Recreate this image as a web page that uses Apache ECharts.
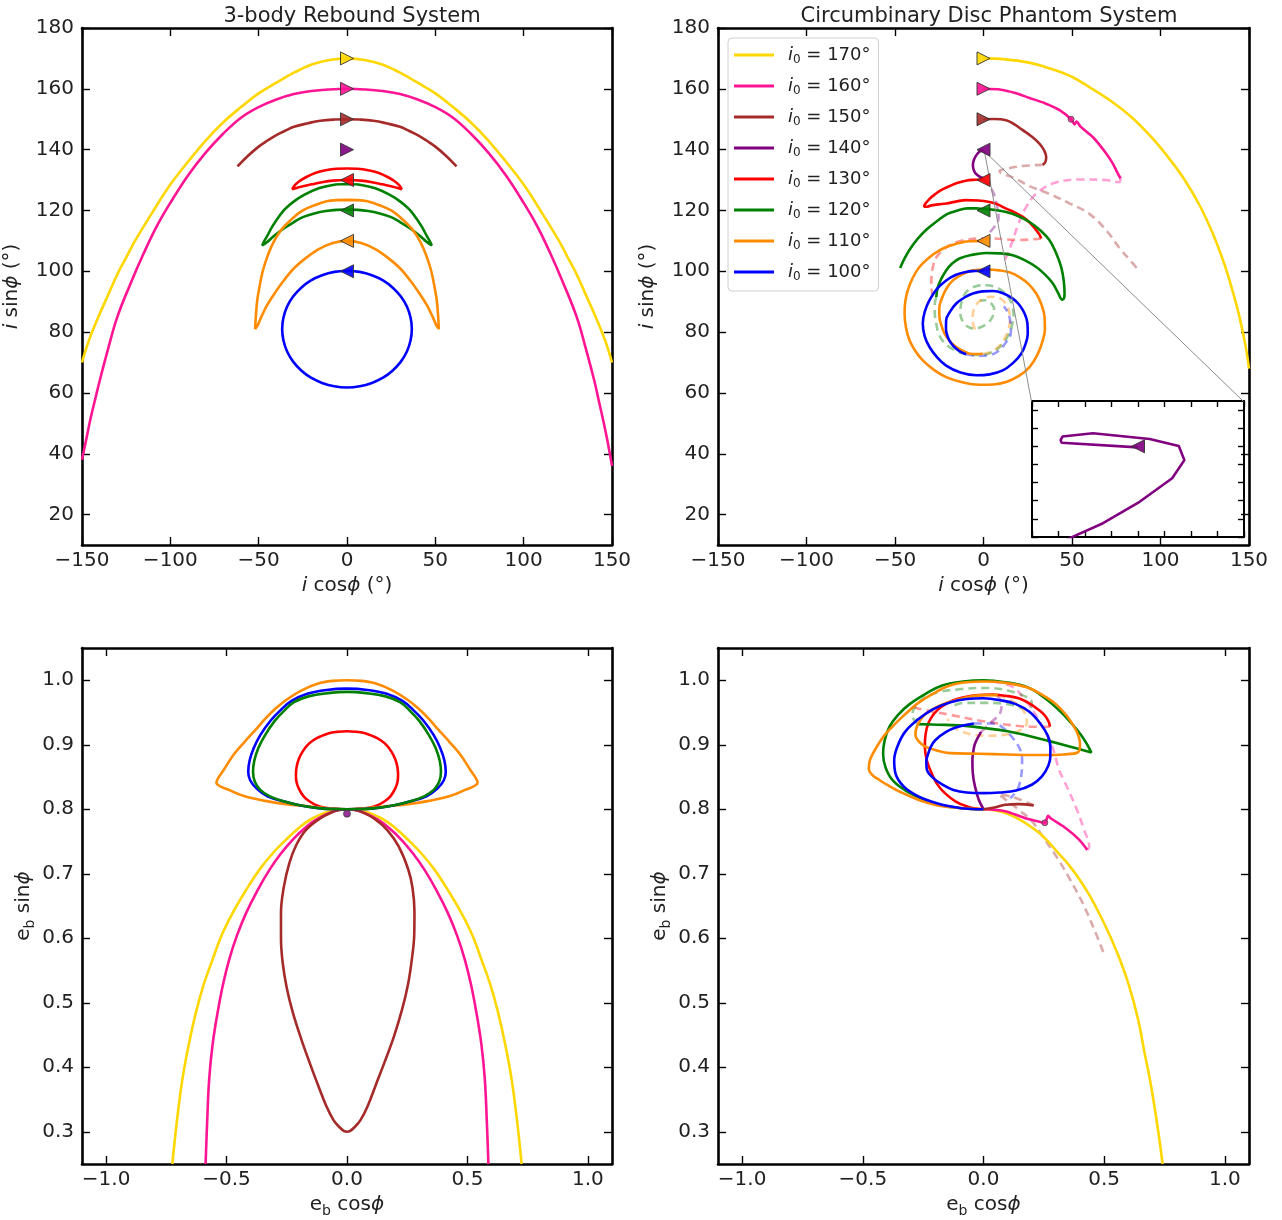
<!DOCTYPE html>
<html>
<head>
<meta charset="utf-8">
<title>Inclination and eccentricity phase portraits</title>
<script src="https://cdn.jsdelivr.net/npm/echarts@6.0.0/dist/echarts.min.js"></script>
<style>
  html, body { margin: 0; padding: 0; background: #fff; }
  #chart { width: 1282px; height: 1220px; }
</style>
</head>
<body>
<div id="chart"></div>
<script>
const FONT = '"DejaVu Sans", sans-serif';

// legend entries, initial inclinations
const i0Labels = ["170", "160", "150", "140", "130", "120", "110", "100"];
const i0Colors = ["#FFD700", "#FF1493", "#A52A2A", "#800080", "#FF0000", "#008000", "#FF8C00", "#0000FF"];
const markerIncl = [170, 160, 150, 140, 130, 120, 110, 100];
const reboundMarkerRot = [-90, -90, -90, -90, 90, 90, 90, 90];
const phantomMarkerRot = [-90, -90, -90, 90, 90, 90, 90, 90];

// tick values
const inclTicksX = [-150, -100, -50, 0, 50, 100, 150];
const inclTicksY = [20, 40, 60, 80, 100, 120, 140, 160, 180];
const eccTicksX = [-1.0, -0.5, 0, 0.5, 1.0];
const eccTicksY = [0.3, 0.4, 0.5, 0.6, 0.7, 0.8, 0.9, 1.0];
const insetTicksX = [-4, -3, -2, -1, 0, 1, 2, 3, 4];
const insetTicksY = [137.5, 138, 138.5, 139, 139.5, 140, 140.5, 141];

// ---- 3-body Rebound, inclination plane (i cos phi, i sin phi)
const tlGold170 = [[-150,70],[-148,74],[-145,79],[-140,86],[-135,92.5],[-130,99],[-125,104.5],[-120,110],[-110,119.5],[-100,128.5],[-90,136],[-80,143],[-70,149],[-60,154],[-50,158.5],[-40,162],[-30,165.3],[-20,168],[-10,169.5],[0,170],[10,169.5],[20,168],[30,165.3],[40,162],[50,158.5],[60,154],[70,149],[80,143],[90,136],[100,128.5],[110,119.5],[120,110],[125,104.5],[130,99],[135,92.5],[140,86],[145,79],[148,74],[150,70]];
const tlPink160 = [[-150,38],[-147.5,45],[-145,52],[-142.5,58],[-140,64],[-135,75],[-130,85],[-122.5,96],[-115,106],[-107.5,115],[-100,122.5],[-90,131.5],[-80,139],[-70,145.3],[-60,150.5],[-50,154],[-40,156.5],[-30,158.3],[-20,159.3],[-10,159.8],[0,160],[10,159.8],[20,159.3],[30,158.3],[40,156.5],[50,154],[60,150.5],[70,145.3],[80,139],[90,131.5],[100,122.5],[107.5,115],[115,106],[122.5,96],[130,85],[135,75],[140,64],[142.5,57.5],[145,51],[147.5,44],[150,36]];
const tlBrown150 = [[-62,134.5],[-56,138],[-50,141],[-45,143],[-40,144.8],[-35,146.2],[-30,147.5],[-22,148.7],[-15,149.5],[-7,149.9],[0,150],[7,149.9],[15,149.5],[22,148.7],[30,147.5],[35,146.2],[40,144.8],[45,143],[50,141],[56,138],[62,134.5]];
const tlRed130 = [[0,133.8],[6,133.7],[12,133.2],[18,132.3],[23,131],[27,129.6],[29.5,128.3],[31,127],[28,127.5],[25,128],[20,128.6],[15,129.2],[8,129.8],[0,130],[-8,129.8],[-15,129.2],[-20,128.6],[-25,128],[-28,127.5],[-31,127],[-29.5,128.3],[-27,129.6],[-23,131],[-18,132.3],[-12,133.2],[-6,133.7],[0,133.8]];
const tlGreen120 = [[0,128.7],[8,128.4],[16,127.3],[24,125.2],[30,123],[35,120.5],[39,117.6],[42.5,114.5],[45,111.8],[47,109.8],[48,108.5],[45,109.7],[41,111.8],[36,114],[30,116.2],[25,117.8],[18,119.1],[12,119.8],[6,120.2],[0,120.3],[-6,120.2],[-12,119.8],[-18,119.1],[-25,117.8],[-30,116.2],[-36,114],[-41,111.8],[-45,109.7],[-48,108.5],[-47,109.8],[-45,111.8],[-42.5,114.5],[-39,117.6],[-35,120.5],[-30,123],[-24,125.2],[-16,127.3],[-8,128.4],[0,128.7]];
const tlOrange110 = [[0,123.5],[-6,123.4],[-11.5,123],[-18,121.8],[-25,120],[-31,117.3],[-37,113.8],[-41.5,109.7],[-45,105],[-47.7,100],[-49.5,95],[-50.8,90.5],[-51.5,86],[-52,81],[-50.5,82.3],[-48.5,85],[-45.3,88.8],[-41.5,92.3],[-36,96.8],[-30,101],[-23,104.5],[-16,107.3],[-8,109.3],[0,110],[8,109.3],[16,107.3],[23,104.5],[30,101],[36,96.8],[41.5,92.3],[45.3,88.8],[48.5,85],[50.5,82.3],[52,81],[51.5,86],[50.8,90.5],[49.5,95],[47.7,100],[45,105],[41.5,109.7],[37,113.8],[31,117.3],[25,120],[18,121.8],[11.5,123],[6,123.4],[0,123.5]];
const tlBlue100 = [[0,100.2],[7.2,99.8],[14.1,98.7],[20.4,97],[25.9,94.6],[30.5,91.7],[33.9,88.4],[36,84.7],[36.7,81],[36,77.3],[33.9,73.6],[30.5,70.3],[25.9,67.4],[20.4,65],[14.1,63.3],[7.2,62.2],[0,61.8],[-7.2,62.2],[-14.1,63.3],[-20.4,65],[-25.9,67.4],[-30.5,70.3],[-33.9,73.6],[-36,77.3],[-36.7,81],[-36,84.7],[-33.9,88.4],[-30.5,91.7],[-25.9,94.6],[-20.4,97],[-14.1,98.7],[-7.2,99.8],[0,100.2]];

// ---- Phantom disc, inclination plane
const trGold170 = [[0,170],[12,169.7],[25,168.7],[37,166.8],[49,164.2],[60,160.5],[72,156],[84,150.5],[95,144],[105,137],[113.5,130.2],[122,121.8],[129.5,112.5],[136,102.5],[141,93],[144,86.5],[146.5,80],[148.5,74],[150,68]];
const trPink160 = [[0,160],[10,159.7],[18,158.6],[26,157],[35,155.2],[43,153],[49.5,150],[51.5,148.3],[52.5,149.2],[55,147.5],[62,144],[69,139],[73,135.5],[76,132],[77.5,130.5]];
const trPink160d = [[77.5,130.5],[76.5,129.3],[69,130],[55,130.2],[40,129],[30,125.6],[24,121],[20,116],[16.5,110.2],[13.5,105.5],[11,102.5]];
const trBrown150 = [[0,150],[6,150.1],[12.8,149.7],[17.5,148.3],[22.2,146.4],[27,144.4],[31.6,142],[34.2,139.8],[35.4,137.6],[35,136],[33.5,135]];
const trBrown150d = [[33.5,135],[22,134.6],[11,133.5],[9,133],[18,130.5],[26,128],[37,125.5],[48,122.5],[60,118.8],[70,113],[77,107.5],[83,103.5],[87.5,100.5]];
const trPurple140 = [[0,140],[-2.3,139.3],[-4,138.2],[-5.4,136.7],[-6,135],[-5.6,133.4],[-4.5,132.2],[-2.4,131.2],[0,130.5]];
const trPurple140d = [[0,130.5],[5,126.5],[7.5,122],[8.5,117.5],[6,114.5],[2,112]];
const trRed130 = [[0,130.2],[-5,130.1],[-10,129.8],[-15,129],[-20,127.8],[-24,126.7],[-27,125.5],[-30,124.1],[-32,122.8],[-33.3,121.8],[-33.5,121.2],[-32,121.2],[-30,121.6],[-25.5,122],[-21,122.3],[-15,123],[-10,123.4],[-3,123.3],[3.4,122.8],[8,122],[12.8,120.6],[17.5,119.4],[22.2,117.9],[26.5,115.8],[29.8,113.5],[31.5,112.2],[32.6,110.8]];
const trRed130d = [[32.6,110.8],[20,110.3],[3.4,110.8],[-15,109.6],[-25,105.8],[-28.6,101.4],[-29.5,95],[-28,91]];
const trGreen120 = [[-47.1,101.1],[-44.5,104.3],[-41.4,107.4],[-37,110.8],[-32,113.8],[-26,116.6],[-20.6,118.8],[-15,119.9],[-9,120.7],[-4,120.7],[0,120.5],[6,120.2],[12.8,119.5],[19.5,118.2],[26,116.2],[32,113.5],[37.3,110.2],[41,106],[43.9,101.4],[45.3,97],[45.8,92.7],[45.4,91],[44.5,90.7],[42.2,92.8],[39.2,96],[34.8,98.9],[29.8,101.4],[23.5,103.6],[16.6,105.3],[9,105.9],[1.5,106],[-6.5,105.4],[-13.6,104.2],[-18,102.4],[-21.1,100.3],[-23.8,97.6],[-25.8,94.8],[-26.7,91.5]];
const trGreen120d = [[-26.7,91.5],[-27.6,88.8],[-27.5,86],[-26.6,82.4],[-25,79],[-22.3,76.6],[-19,75],[-14.5,73.6],[-10,72.8],[-5,72.5],[0,72.5],[4,73.2],[8,74.5],[11.3,76.5],[14,79],[16.1,82.2],[17,85.5],[16.2,88.7],[14,91.5],[10.5,93.6],[6,95],[1.5,95.4],[-3,95.3],[-6.8,94.4],[-10,93],[-12,90.6],[-13,88],[-13.1,86.2],[-12.5,84.5],[-10.5,82.6],[-8,81.5],[-5,81.2],[-2,81.5],[1.5,82.6],[4,84],[5.6,85.8],[6,87.5],[5,89],[3,90],[0.5,90.5],[-2,90.3]];
const trOrange110 = [[0,110],[-6,109.9],[-11.7,109.6],[-18.5,108.5],[-24.9,106.9],[-31,104.4],[-36.2,101.4],[-40,97.8],[-42.8,93.7],[-44.2,90],[-44.6,86.1],[-43.8,81.5],[-41.8,77.3],[-38.5,73.8],[-34.3,70.7],[-28,67.6],[-21.1,65.2],[-12,63.5],[-2.3,62.7],[5.5,62.8],[12.8,63.6],[20,65.6],[26,68.5],[30.5,72.6],[33.5,77.3],[34.7,81],[34.5,85],[32.8,89],[29.8,92.7],[25.5,95.8],[20.3,98.1],[15,99.6],[9,100.3],[1.5,100.6],[-6,100.3],[-12,99],[-17.3,97],[-21.3,94],[-23.9,90.5],[-25,87.8],[-24.9,85],[-23.8,82.2],[-22,79.5],[-19,77],[-15.4,75.1],[-11.5,73.8],[-7.9,72.9],[-4,72.8],[-0.4,72.9]];
const trOrange110d = [[-0.4,72.9],[3,73.2],[6,74],[9.5,75.8],[12,78],[14,80.8],[15,84],[14.5,86.8],[13,89],[10.2,90.8],[7,91.5],[3.5,91.6],[0,91],[-3,89.8],[-5,88],[-6.1,85.5],[-6,83],[-4.8,81],[-3,79.5]];
const trBlue100 = [[0,100.2],[-5,100.1],[-9.8,99.8],[-15.8,98.8],[-21.1,97],[-26.3,94.2],[-30.5,90.5],[-33.2,86.7],[-34.3,82.8],[-33.3,78.8],[-30.5,75.1],[-26.3,71.8],[-21.1,69],[-13,66.7],[-4.1,65.8],[3.5,66.1],[10.9,67.4],[16.6,69.8],[21.3,72.9],[23.8,76.2],[25,79.5],[24.8,83],[23.2,86.1],[20.3,88.9],[16.6,91],[11,92.8],[5.3,93.5],[-0.5,93.4],[-6,92.7],[-11,91.3],[-15.4,89.4],[-18.8,86.8],[-21.1,83.9],[-21.2,81],[-20.2,78.4],[-18.1,76.2],[-15.4,74.5],[-12.7,73.4],[-9.8,72.7]];
const trBlue100d = [[-9.8,72.7],[-3,72.2],[4,72.5],[9,74],[12.5,76.5],[15.5,80],[15,84],[13.7,86.5],[11.5,88.5]];
const trPinkDot = [[49.5,150]];
const insetPurple = [[0,139.97],[-2.88,140.1],[-2.92,140.17],[-2.85,140.27],[-1.7,140.36],[0.44,140.2],[1.54,140.01],[1.75,139.62],[1.29,139.12],[0.06,138.47],[-1.32,137.88],[-2.45,137.51],[-3,137.3]];
const insetLinkLeft = [[0.5,139.5],[27.1,57.2]];
const insetLinkRight = [[0.5,139.5],[146.9,57.2]];

// ---- 3-body Rebound, eccentricity plane (e_b cos phi, e_b sin phi)
const blGold170 = [[-0.725,0.25],[-0.705,0.32],[-0.683,0.382],[-0.657,0.435],[-0.627,0.485],[-0.595,0.528],[-0.558,0.567],[-0.52,0.605],[-0.475,0.639],[-0.42,0.674],[-0.364,0.706],[-0.31,0.731],[-0.253,0.753],[-0.2,0.771],[-0.142,0.786],[-0.06,0.798],[0,0.8],[0.06,0.798],[0.142,0.786],[0.2,0.771],[0.253,0.753],[0.31,0.731],[0.364,0.706],[0.42,0.674],[0.475,0.639],[0.52,0.605],[0.558,0.567],[0.595,0.528],[0.627,0.485],[0.657,0.435],[0.683,0.382],[0.705,0.32],[0.725,0.25]];
const blPink160 = [[-0.587,0.25],[-0.58,0.32],[-0.572,0.382],[-0.558,0.435],[-0.537,0.485],[-0.515,0.528],[-0.489,0.567],[-0.457,0.604],[-0.419,0.639],[-0.372,0.674],[-0.322,0.706],[-0.275,0.731],[-0.225,0.753],[-0.177,0.77],[-0.128,0.784],[-0.045,0.798],[0,0.8],[0.045,0.798],[0.128,0.784],[0.177,0.77],[0.225,0.753],[0.275,0.731],[0.322,0.706],[0.372,0.674],[0.419,0.639],[0.457,0.604],[0.489,0.567],[0.515,0.528],[0.537,0.485],[0.558,0.435],[0.572,0.382],[0.58,0.32],[0.587,0.25]];
const blBrown150 = [[0,0.8],[-0.03,0.799],[-0.059,0.796],[-0.115,0.785],[-0.17,0.768],[-0.21,0.745],[-0.239,0.717],[-0.262,0.68],[-0.274,0.639],[-0.274,0.6],[-0.267,0.562],[-0.25,0.523],[-0.225,0.485],[-0.192,0.446],[-0.156,0.408],[-0.12,0.372],[-0.086,0.34],[-0.056,0.318],[-0.031,0.307],[-0.012,0.301],[0,0.3],[0.012,0.301],[0.031,0.307],[0.056,0.318],[0.086,0.34],[0.12,0.373],[0.156,0.408],[0.195,0.448],[0.229,0.49],[0.254,0.53],[0.27,0.57],[0.279,0.605],[0.28,0.642],[0.272,0.678],[0.254,0.707],[0.215,0.742],[0.169,0.767],[0.115,0.785],[0.06,0.796],[0.03,0.799],[0,0.8]];
const blPurpleDot = [[0,0.793]];
const blRed130 = [[0,0.8],[-0.04,0.8005],[-0.085,0.802],[-0.125,0.806],[-0.155,0.812],[-0.18,0.82],[-0.2,0.832],[-0.21,0.843],[-0.212,0.853],[-0.209,0.866],[-0.2,0.878],[-0.185,0.889],[-0.165,0.899],[-0.14,0.907],[-0.11,0.913],[-0.075,0.918],[-0.04,0.92],[0,0.921],[0.04,0.92],[0.075,0.918],[0.11,0.913],[0.14,0.907],[0.165,0.899],[0.185,0.889],[0.2,0.878],[0.209,0.866],[0.212,0.853],[0.21,0.843],[0.2,0.832],[0.18,0.82],[0.155,0.812],[0.125,0.806],[0.085,0.802],[0.04,0.8005],[0,0.8]];
const blGreen120 = [[0,0.8],[-0.05,0.8003],[-0.1,0.801],[-0.18,0.805],[-0.26,0.812],[-0.32,0.82],[-0.36,0.83],[-0.383,0.843],[-0.39,0.858],[-0.385,0.875],[-0.368,0.895],[-0.34,0.915],[-0.3,0.937],[-0.26,0.953],[-0.22,0.966],[-0.16,0.975],[-0.08,0.98],[0,0.982],[0.08,0.98],[0.16,0.975],[0.22,0.966],[0.26,0.953],[0.3,0.937],[0.34,0.915],[0.368,0.895],[0.385,0.875],[0.39,0.858],[0.383,0.843],[0.36,0.83],[0.32,0.82],[0.26,0.812],[0.18,0.805],[0.1,0.801],[0.05,0.8003],[0,0.8]];
const blOrange110 = [[0,0.8],[-0.085,0.802],[-0.17,0.805],[-0.254,0.808],[-0.34,0.813],[-0.424,0.82],[-0.49,0.83],[-0.542,0.841],[-0.51,0.862],[-0.47,0.885],[-0.424,0.905],[-0.38,0.923],[-0.34,0.94],[-0.3,0.955],[-0.254,0.969],[-0.19,0.984],[-0.12,0.995],[-0.06,0.999],[0,1.0],[0.06,0.999],[0.12,0.995],[0.19,0.984],[0.254,0.969],[0.3,0.955],[0.34,0.94],[0.38,0.923],[0.424,0.905],[0.47,0.885],[0.51,0.862],[0.542,0.841],[0.49,0.83],[0.424,0.82],[0.34,0.813],[0.254,0.808],[0.17,0.805],[0.085,0.802],[0,0.8]];
const blBlue100 = [[0,0.8],[-0.05,0.8003],[-0.1,0.801],[-0.18,0.805],[-0.26,0.812],[-0.33,0.82],[-0.375,0.832],[-0.402,0.845],[-0.41,0.858],[-0.404,0.876],[-0.387,0.895],[-0.36,0.915],[-0.316,0.938],[-0.272,0.955],[-0.23,0.968],[-0.165,0.979],[-0.085,0.985],[0,0.987],[0.085,0.985],[0.165,0.979],[0.23,0.968],[0.272,0.955],[0.316,0.938],[0.36,0.915],[0.387,0.895],[0.404,0.876],[0.41,0.858],[0.402,0.845],[0.375,0.832],[0.33,0.82],[0.26,0.812],[0.18,0.805],[0.1,0.801],[0.05,0.8003],[0,0.8]];

// ---- Phantom disc, eccentricity plane
const brGold170 = [[0,0.8],[0.05,0.798],[0.1,0.793],[0.15,0.784],[0.2,0.772],[0.235,0.762],[0.27,0.749],[0.31,0.732],[0.355,0.713],[0.4,0.69],[0.44,0.666],[0.48,0.638],[0.52,0.607],[0.565,0.567],[0.605,0.524],[0.64,0.475],[0.667,0.423],[0.69,0.38],[0.708,0.34],[0.728,0.29],[0.742,0.25]];
const brPink160 = [[0,0.8],[0.09,0.797],[0.174,0.786],[0.229,0.781],[0.254,0.779],[0.268,0.79],[0.278,0.786],[0.34,0.771],[0.396,0.753],[0.43,0.737]];
const brPink160d = [[0.43,0.737],[0.438,0.742],[0.417,0.768],[0.382,0.804],[0.333,0.845],[0.313,0.861],[0.285,0.897],[0.229,0.938],[0.174,0.969],[0.118,0.99],[0.05,0.997]];
const brBrown150 = [[0,0.8],[0.05,0.803],[0.09,0.807],[0.146,0.808],[0.208,0.806]];
const brBrown150d = [[0.208,0.806],[0.15,0.815],[0.1,0.821],[0.063,0.823],[0.11,0.81],[0.15,0.798],[0.2,0.782],[0.245,0.758],[0.31,0.722],[0.36,0.69],[0.41,0.655],[0.465,0.608],[0.5,0.575]];
const brPurple140 = [[0,0.8],[-0.02,0.815],[-0.035,0.835],[-0.044,0.855],[-0.046,0.876],[-0.042,0.89],[-0.035,0.902],[-0.01,0.92]];
const brPurple140d = [[-0.01,0.92],[0.035,0.936],[0.07,0.95],[0.075,0.965],[0.05,0.978]];
const brRed130 = [[0,0.8],[-0.03,0.801],[-0.065,0.804],[-0.115,0.812],[-0.16,0.825],[-0.192,0.839],[-0.215,0.856],[-0.235,0.876],[-0.243,0.897],[-0.24,0.916],[-0.229,0.933],[-0.205,0.948],[-0.174,0.959],[-0.125,0.969],[-0.076,0.974],[-0.02,0.977],[0.035,0.978],[0.09,0.976],[0.146,0.972],[0.19,0.964],[0.229,0.954],[0.255,0.945],[0.271,0.935],[0.275,0.928]];
const brRed130d = [[0.275,0.928],[0.2,0.928],[0.146,0.929],[0.007,0.936],[-0.132,0.946],[-0.257,0.955],[-0.3,0.96]];
const brGreen120 = [[0,0.8],[-0.05,0.8005],[-0.1,0.802],[-0.17,0.806],[-0.239,0.814],[-0.31,0.826],[-0.374,0.844],[-0.405,0.864],[-0.416,0.886],[-0.41,0.906],[-0.391,0.927],[-0.355,0.946],[-0.306,0.963],[-0.24,0.979],[-0.171,0.992],[-0.085,0.998],[0,1.0],[0.09,0.997],[0.184,0.989],[0.255,0.972],[0.32,0.951],[0.365,0.933],[0.404,0.915],[0.43,0.9],[0.447,0.888],[0.36,0.897],[0.269,0.906],[0.185,0.914],[0.1,0.921],[0,0.926],[-0.103,0.93],[-0.19,0.931],[-0.272,0.932]];
const brGreen120d = [[-0.272,0.932],[-0.295,0.945],[-0.27,0.965],[-0.2,0.98],[-0.1,0.986],[0,0.988],[0.12,0.982],[0.2,0.965],[0.19,0.955],[0.1,0.963],[0,0.965],[-0.08,0.965],[-0.14,0.958]];
const brOrange110 = [[0,0.8],[-0.07,0.801],[-0.13,0.803],[-0.19,0.806],[-0.265,0.814],[-0.34,0.826],[-0.4,0.838],[-0.43,0.845],[-0.46,0.853],[-0.475,0.862],[-0.472,0.874],[-0.46,0.885],[-0.437,0.9],[-0.41,0.915],[-0.375,0.929],[-0.34,0.942],[-0.305,0.954],[-0.27,0.965],[-0.205,0.98],[-0.14,0.992],[-0.07,0.997],[0,0.998],[0.09,0.996],[0.18,0.989],[0.245,0.977],[0.3,0.963],[0.345,0.945],[0.38,0.925],[0.395,0.912],[0.4,0.9],[0.39,0.888],[0.33,0.885],[0.27,0.884],[0.185,0.884],[0.1,0.885],[-0.02,0.886],[-0.14,0.887],[-0.2,0.892],[-0.245,0.898],[-0.27,0.906],[-0.282,0.915],[-0.28,0.923],[-0.267,0.935],[-0.245,0.946],[-0.205,0.956],[-0.16,0.964],[-0.105,0.97],[-0.05,0.975],[0.005,0.977],[0.06,0.977]];
const brOrange110d = [[0.06,0.977],[0.15,0.96],[0.18,0.935],[0.12,0.918],[0.02,0.914],[-0.1,0.922],[-0.15,0.94]];
const brBlue100 = [[0,0.8],[-0.05,0.8005],[-0.1,0.802],[-0.19,0.809],[-0.27,0.82],[-0.33,0.835],[-0.365,0.856],[-0.37,0.876],[-0.357,0.897],[-0.325,0.92],[-0.272,0.939],[-0.21,0.955],[-0.137,0.966],[-0.07,0.971],[0,0.972],[0.07,0.969],[0.134,0.963],[0.19,0.951],[0.235,0.933],[0.265,0.915],[0.277,0.897],[0.277,0.882],[0.269,0.868],[0.242,0.851],[0.2,0.838],[0.135,0.829],[0.066,0.826],[0,0.825],[-0.07,0.826],[-0.125,0.83],[-0.17,0.838],[-0.21,0.849],[-0.235,0.862],[-0.237,0.874],[-0.23,0.885],[-0.218,0.897],[-0.2,0.907],[-0.155,0.92],[-0.104,0.928],[-0.07,0.931],[-0.04,0.933]];
const brBlue100d = [[-0.04,0.933],[0.035,0.933],[0.118,0.912],[0.16,0.876],[0.146,0.835],[0.111,0.817]];
const brPinkDot = [[0.254,0.779]];

const TXT = "#222";
const richBase = {
  t: { fontSize: 20, color: TXT, fontFamily: FONT, lineHeight: 26 },
  it: { fontSize: 20, color: TXT, fontFamily: FONT, fontStyle: "italic", lineHeight: 26 },
  sub: { fontSize: 14, color: TXT, fontFamily: FONT, lineHeight: 14, verticalAlign: "bottom" },
};

const fmtIncl = (v) => String(Math.round(v)).replace("-", "\u2212");
const fmtEcc = (v) => Number(v).toFixed(1).replace("-", "\u2212");

function axisSet(gi, opt) {
  const tickLine = { color: "#000", width: opt.tickW || 1.4 };
  const spine = { show: true, onZero: false, lineStyle: { color: "#000", width: opt.spineW || 2.6 } };
  const common = (ticks) => ({
    type: "value",
    gridIndex: gi,
    axisLine: spine,
    axisTick: { show: true, inside: true, length: opt.tickLen || 8, customValues: ticks, lineStyle: tickLine },
    splitLine: { show: false },
  });
  const xb = Object.assign(common(opt.xTicks), {
    position: "bottom", min: opt.xMin, max: opt.xMax,
    axisLabel: opt.xFmt
      ? { show: true, customValues: opt.xTicks, formatter: opt.xFmt, margin: 6, fontSize: 20, color: TXT, fontFamily: FONT }
      : { show: false },
    name: opt.xName || "", nameLocation: "middle", nameGap: opt.xGap || 28,
    nameTextStyle: { rich: richBase },
  });
  const xt = Object.assign(common(opt.xTicks), {
    position: "top", min: opt.xMin, max: opt.xMax, axisLabel: { show: false },
  });
  const yl = Object.assign(common(opt.yTicks), {
    position: "left", min: opt.yMin, max: opt.yMax,
    axisLabel: opt.yFmt
      ? { show: true, customValues: opt.yTicks, formatter: opt.yFmt, margin: 8, fontSize: 20, color: TXT, fontFamily: FONT }
      : { show: false },
    name: opt.yName || "", nameLocation: "middle", nameGap: opt.yGap || 55, nameRotate: 90,
    nameTextStyle: { rich: richBase },
  });
  const yr = Object.assign(common(opt.yTicks), {
    position: "right", min: opt.yMin, max: opt.yMax, axisLabel: { show: false },
  });
  return { x: [xb, xt], y: [yl, yr] };
}

const inclNameX = "{it|i}{t| cos}{it|\u03D5}{t| (\u00B0)}";
const inclNameY = "{it|i}{t| sin}{it|\u03D5}{t| (\u00B0)}";
const eccNameX = "{t|e}{sub|b}{t| cos}{it|\u03D5}";
const eccNameY = "{t|e}{sub|b}{t| sin}{it|\u03D5}";

const panels = [
  axisSet(0, { xMin: -150, xMax: 150, yMin: 10, yMax: 180, xTicks: inclTicksX, yTicks: inclTicksY, xFmt: fmtIncl, yFmt: fmtIncl, xName: inclNameX, yName: inclNameY, xGap: 28, yGap: 57 }),
  axisSet(1, { xMin: -150, xMax: 150, yMin: 10, yMax: 180, xTicks: inclTicksX, yTicks: inclTicksY, xFmt: fmtIncl, yFmt: fmtIncl, xName: inclNameX, yName: inclNameY, xGap: 28, yGap: 57 }),
  axisSet(2, { xMin: -1.1, xMax: 1.1, yMin: 0.25, yMax: 1.05, xTicks: eccTicksX, yTicks: eccTicksY, xFmt: fmtEcc, yFmt: fmtEcc, xName: eccNameX, yName: eccNameY, xGap: 28, yGap: 45 }),
  axisSet(3, { xMin: -1.1, xMax: 1.1, yMin: 0.25, yMax: 1.05, xTicks: eccTicksX, yTicks: eccTicksY, xFmt: fmtEcc, yFmt: fmtEcc, xName: eccNameX, yName: eccNameY, xGap: 28, yGap: 45 }),
  axisSet(4, { xMin: -4, xMax: 4, yMin: 137.5, yMax: 141.25, xTicks: insetTicksX, yTicks: insetTicksY, tickLen: 6, spineW: 2 }),
];

function solid(name, data, color, gi, smooth) {
  return {
    type: "line", name, data, xAxisIndex: gi * 2, yAxisIndex: gi * 2,
    showSymbol: false, symbol: "none", smooth: smooth === undefined ? 0.4 : smooth,
    color, lineStyle: { color, width: 2.6 }, z: 3, silent: true,
  };
}

function dashed(name, data, color, gi) {
  return {
    type: "line", name: name + " (disc)", data, xAxisIndex: gi * 2, yAxisIndex: gi * 2,
    showSymbol: false, symbol: "none", smooth: 0.4,
    color, lineStyle: { color, width: 2.6, type: [8, 5], opacity: 0.4 }, z: 2, silent: true,
  };
}

function triangles(gi, rot) {
  return {
    type: "scatter", name: "start", xAxisIndex: gi * 2, yAxisIndex: gi * 2,
    symbol: "triangle", symbolSize: 13, z: 6, silent: true,
    data: markerIncl.map((v, k) => ({
      value: [0, v], symbolRotate: rot[k],
      itemStyle: { color: i0Colors[k], borderColor: "#333", borderWidth: 1, opacity: 0.9 },
    })),
  };
}

function dot(data, color, gi, size) {
  return {
    type: "scatter", name: "dot", data, xAxisIndex: gi * 2, yAxisIndex: gi * 2,
    symbol: "circle", symbolSize: size, z: 6, silent: true,
    itemStyle: { color, borderColor: "#444", borderWidth: 1 },
  };
}

const C = i0Colors;
const series = [
  // top left
  solid("170", tlGold170, C[0], 0), solid("160", tlPink160, C[1], 0), solid("150", tlBrown150, C[2], 0),
  solid("130", tlRed130, C[4], 0, 0.35), solid("120", tlGreen120, C[5], 0, 0.35), solid("110", tlOrange110, C[6], 0, 0.35),
  solid("100", tlBlue100, C[7], 0),
  triangles(0, reboundMarkerRot),
  // top right
  dashed("160", trPink160d, C[1], 1), dashed("150", trBrown150d, C[2], 1), dashed("140", trPurple140d, C[3], 1),
  dashed("130", trRed130d, C[4], 1), dashed("120", trGreen120d, C[5], 1), dashed("110", trOrange110d, C[6], 1),
  dashed("100", trBlue100d, C[7], 1),
  solid("170", trGold170, C[0], 1), solid("160", trPink160, C[1], 1, 0.3), solid("150", trBrown150, C[2], 1),
  solid("140", trPurple140, C[3], 1), solid("130", trRed130, C[4], 1), solid("120", trGreen120, C[5], 1),
  solid("110", trOrange110, C[6], 1), solid("100", trBlue100, C[7], 1),
  dot(trPinkDot, C[1], 1, 6),
  triangles(1, phantomMarkerRot),
  {
    type: "line", name: "link", data: insetLinkLeft, xAxisIndex: 2, yAxisIndex: 2, showSymbol: false, symbol: "none",
    lineStyle: { color: "#8c8c8c", width: 1 }, z: 5, silent: true,
  },
  {
    type: "line", name: "link", data: insetLinkRight, xAxisIndex: 2, yAxisIndex: 2, showSymbol: false, symbol: "none",
    lineStyle: { color: "#8c8c8c", width: 1 }, z: 5, silent: true,
  },
  // inset
  Object.assign(solid("140", insetPurple, C[3], 4, 0), { z: 7 }),
  {
    type: "scatter", name: "start", data: [{ value: [0, 140], symbolRotate: 90 }], xAxisIndex: 8, yAxisIndex: 8,
    symbol: "triangle", symbolSize: 13, z: 8, silent: true,
    itemStyle: { color: C[3], borderColor: "#333", borderWidth: 1, opacity: 0.9 },
  },
  // bottom left
  solid("170", blGold170, C[0], 2), solid("160", blPink160, C[1], 2), solid("150", blBrown150, C[2], 2),
  solid("130", blRed130, C[4], 2), solid("110", blOrange110, C[6], 2, 0.35),
  solid("100", blBlue100, C[7], 2), solid("120", blGreen120, C[5], 2),
  dot(blPurpleDot, C[3], 2, 7),
  // bottom right
  dashed("160", brPink160d, C[1], 3), dashed("150", brBrown150d, C[2], 3), dashed("140", brPurple140d, C[3], 3),
  dashed("130", brRed130d, C[4], 3), dashed("120", brGreen120d, C[5], 3), dashed("110", brOrange110d, C[6], 3),
  dashed("100", brBlue100d, C[7], 3),
  solid("170", brGold170, C[0], 3), solid("160", brPink160, C[1], 3, 0.3), solid("150", brBrown150, C[2], 3),
  solid("140", brPurple140, C[3], 3), solid("130", brRed130, C[4], 3), solid("120", brGreen120, C[5], 3),
  solid("110", brOrange110, C[6], 3), solid("100", brBlue100, C[7], 3),
  dot(brPinkDot, C[1], 3, 6),
];

const chart = echarts.init(document.getElementById("chart"), null, { renderer: "canvas" });
chart.setOption({
  animation: false,
  backgroundColor: "#fff",
  title: [
    { text: "3-body Rebound System", left: 347, top: 1, textAlign: "center",
      textStyle: { fontSize: 21, fontWeight: "normal", color: TXT, fontFamily: FONT } },
    { text: "Circumbinary Disc Phantom System", left: 984, top: 1, textAlign: "center",
      textStyle: { fontSize: 21, fontWeight: "normal", color: TXT, fontFamily: FONT } },
  ],
  grid: [
    { left: 82, top: 28, width: 530, height: 517 },
    { left: 718, top: 28, width: 531, height: 517 },
    { left: 82, top: 648, width: 530, height: 516 },
    { left: 718, top: 648, width: 531, height: 516 },
    { left: 1032, top: 401, width: 212, height: 136, show: true, backgroundColor: "#fff", borderWidth: 0 },
  ],
  xAxis: panels.flatMap((p) => p.x),
  yAxis: panels.flatMap((p) => p.y),
  legend: {
    data: i0Labels,
    orient: "vertical",
    left: 728,
    top: 38,
    icon: "rect",
    itemWidth: 40,
    itemHeight: 3,
    itemGap: 11,
    selectedMode: false,
    padding: [8, 8, 8, 6],
    backgroundColor: "rgba(255,255,255,0.85)",
    borderColor: "#d0d0d0",
    borderWidth: 1,
    borderRadius: 4,
    z: 8,
    formatter: (name) => `{i|i}{s|0}{t| = ${name}\u00B0}`,
    textStyle: {
      rich: {
        i: { fontSize: 18, color: TXT, fontFamily: FONT, fontStyle: "italic", lineHeight: 22, padding: [0, 0, 0, 9] },
        s: { fontSize: 12, color: TXT, fontFamily: FONT, lineHeight: 12, verticalAlign: "bottom" },
        t: { fontSize: 18, color: TXT, fontFamily: FONT, lineHeight: 22 },
      },
    },
  },
  series,
});
</script>
</body>
</html>
